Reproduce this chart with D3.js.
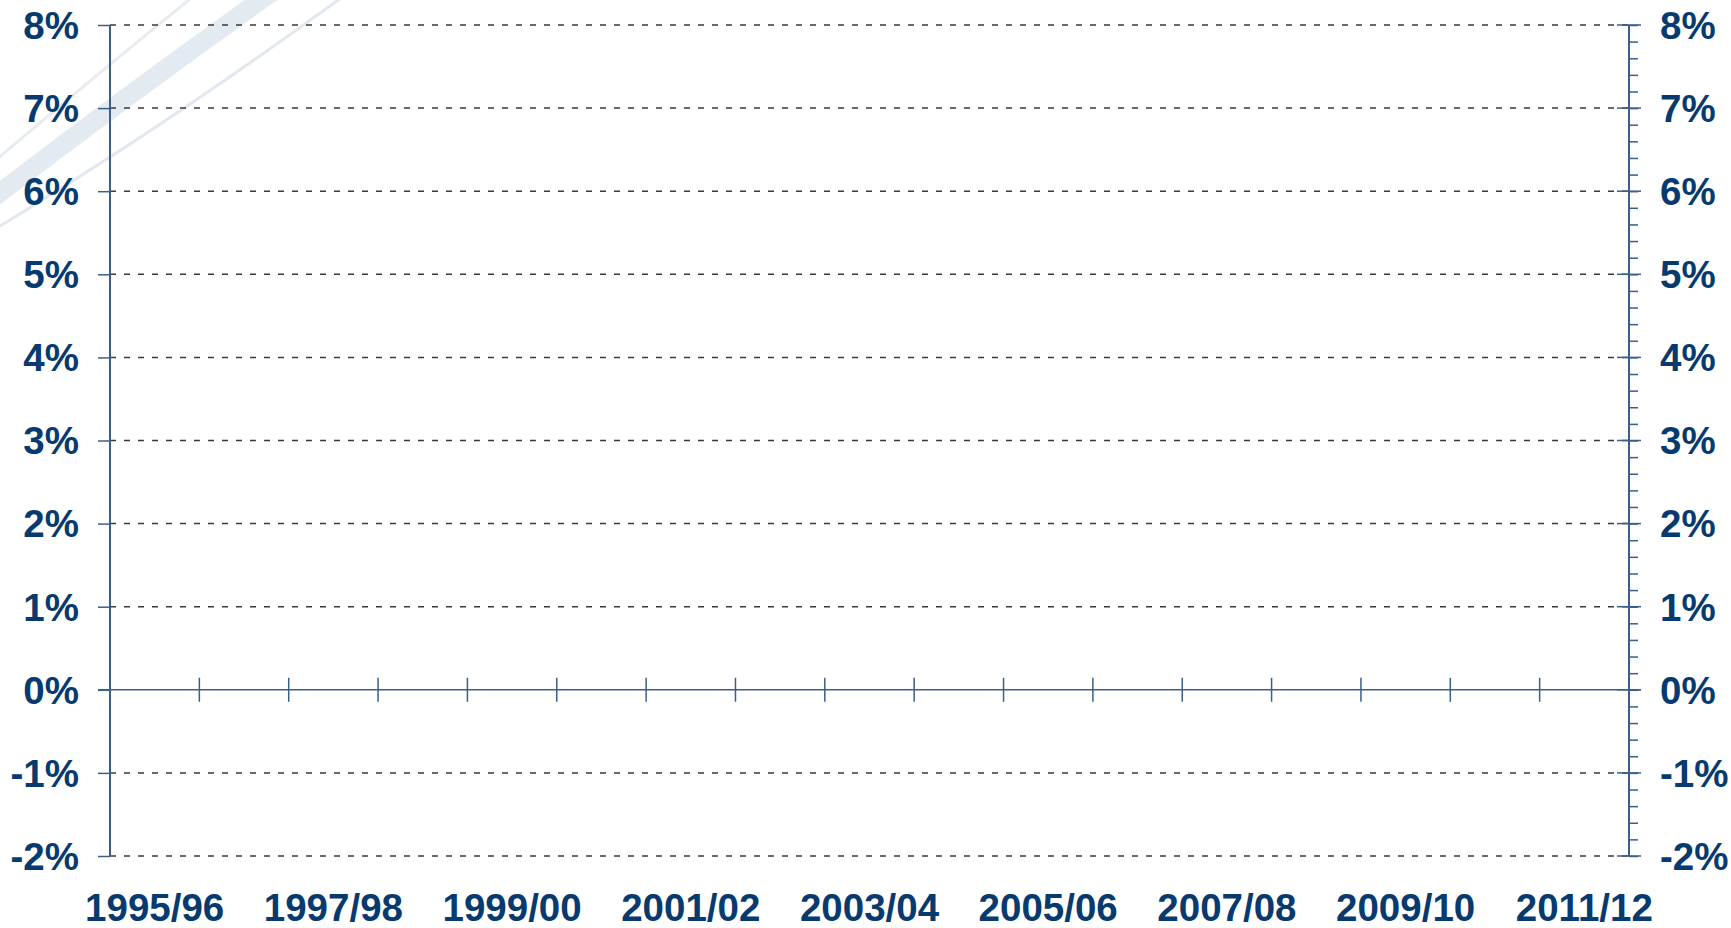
<!DOCTYPE html>
<html>
<head>
<meta charset="utf-8">
<script src="https://cdn.jsdelivr.net/npm/d3@7"></script>
<style>
  html, body { margin: 0; padding: 0; background: #fff; }
  svg { display: block; }
  .lbl { font-family: "Liberation Sans", Arial, sans-serif; font-weight: bold; font-size: 38.5px; fill: #073a6e; }
</style>
</head>
<body>
<div id="chart"></div>
<script>
// financial years on the x axis (one band each)
const years = [
  "1995/96", "1996/97", "1997/98", "1998/99", "1999/00", "2000/01",
  "2001/02", "2002/03", "2003/04", "2004/05", "2005/06", "2006/07",
  "2007/08", "2008/09", "2009/10", "2010/11", "2011/12"
];
// only every second year gets a label
const yearLabels = years.filter((d, i) => i % 2 === 0);

// percentage ticks (both sides)
const pctTicks = [-2, -1, 0, 1, 2, 3, 4, 5, 6, 7, 8];
const pctMinor = d3.range(-2, 8.001, 0.2);

// the chart has no plotted series
const series = [];

const W = 1731, H = 928;
const margin = { top: 25, right: 102, bottom: 72, left: 110 };

const svg = d3.select("#chart").append("svg")
  .attr("width", W)
  .attr("height", H);

// decorative swooshes top-left
const deco = svg.append("g");
deco.append("path")
  .attr("d", "M-20,208 Q120,100 275,-10")
  .attr("fill", "none").attr("stroke", "#e4eaf2").attr("stroke-width", 19);
deco.append("path")
  .attr("d", "M-10,165 Q90,80 195,-5")
  .attr("fill", "none").attr("stroke", "#e6ecf2").attr("stroke-width", 3);
deco.append("path")
  .attr("d", "M-10,232 Q160,130 345,-5")
  .attr("fill", "none").attr("stroke", "#e1e8ef").attr("stroke-width", 3);

const x = d3.scaleBand()
  .domain(years)
  .range([margin.left, W - margin.right]);

const y = d3.scaleLinear()
  .domain([-2, 8])
  .range([H - margin.bottom, margin.top]);

const axisColor = "#3a5f8a";

// dashed gridlines (not at 0)
svg.append("g")
  .selectAll("line")
  .data(pctTicks.filter(d => d !== 0))
  .join("line")
  .attr("x1", x.range()[0])
  .attr("x2", x.range()[1])
  .attr("y1", d => y(d))
  .attr("y2", d => y(d))
  .attr("stroke", "#3a3a3a")
  .attr("stroke-width", 1.5)
  .attr("stroke-dasharray", "6,8");

// left axis
const left = svg.append("g")
  .attr("transform", `translate(${x.range()[0]},0)`);
left.call(d3.axisLeft(y).tickValues(pctMinor).tickSize(9).tickFormat(""))
  .call(g => g.select(".domain").remove());
left.call(d3.axisLeft(y).tickValues(pctTicks).tickSize(12).tickFormat(""))
  .call(g => g.select(".domain").remove());
left.selectAll("line").attr("stroke", axisColor).attr("stroke-width", 1.5);
left.append("line")
  .attr("y1", y(-2)).attr("y2", y(8))
  .attr("stroke", axisColor).attr("stroke-width", 2);

// right axis
const right = svg.append("g")
  .attr("transform", `translate(${x.range()[1]},0)`);
right.call(d3.axisRight(y).tickValues(pctMinor).tickSize(9).tickFormat(""))
  .call(g => g.select(".domain").remove());
right.selectAll("line").attr("stroke", axisColor).attr("stroke-width", 1.5);
right.selectAll(".major")
  .data(pctTicks)
  .join("line")
  .attr("x1", -12).attr("x2", 12)
  .attr("y1", d => y(d)).attr("y2", d => y(d))
  .attr("stroke", axisColor).attr("stroke-width", 1.5);
right.append("line")
  .attr("y1", y(-2)).attr("y2", y(8))
  .attr("stroke", axisColor).attr("stroke-width", 2);

// percentage labels
svg.append("g").selectAll("text")
  .data(pctTicks)
  .join("text")
  .attr("class", "lbl")
  .attr("x", x.range()[0] - 31)
  .attr("y", d => y(d))
  .attr("dy", "0.36em")
  .attr("text-anchor", "end")
  .text(d => d + "%");

svg.append("g").selectAll("text")
  .data(pctTicks)
  .join("text")
  .attr("class", "lbl")
  .attr("x", x.range()[1] + 31)
  .attr("y", d => y(d))
  .attr("dy", "0.36em")
  .attr("text-anchor", "start")
  .text(d => d + "%");

// zero line with category ticks
svg.append("line")
  .attr("x1", x.range()[0] - 12).attr("x2", x.range()[1] + 12)
  .attr("y1", y(0)).attr("y2", y(0))
  .attr("stroke", axisColor).attr("stroke-width", 1.5);

svg.append("g").selectAll("line")
  .data(years.slice(1))
  .join("line")
  .attr("x1", d => x(d)).attr("x2", d => x(d))
  .attr("y1", y(0) - 12).attr("y2", y(0) + 12)
  .attr("stroke", axisColor).attr("stroke-width", 1.5);

// year labels
svg.append("g").selectAll("text")
  .data(yearLabels)
  .join("text")
  .attr("class", "lbl")
  .attr("x", d => x(d) + x.bandwidth() / 2)
  .attr("y", 921)
  .attr("text-anchor", "middle")
  .text(d => d);
</script>
</body>
</html>
